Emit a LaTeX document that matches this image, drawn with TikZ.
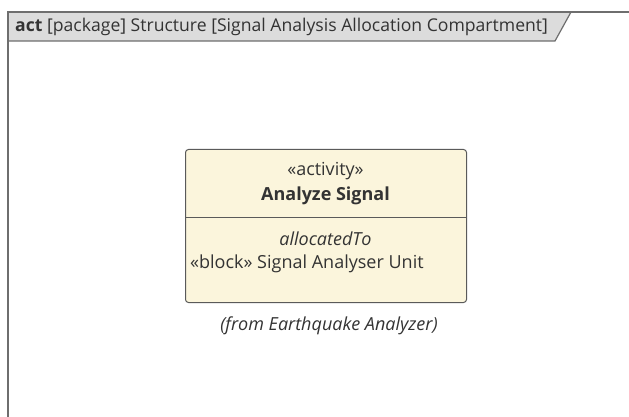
\documentclass[tikz,border=0pt]{standalone}
\usepackage{fontspec}
\setmainfont{Open Sans}
\definecolor{framec}{HTML}{6E6E6E}
\definecolor{tabfill}{HTML}{DCDCDC}
\definecolor{boxfill}{HTML}{FBF5DC}
\definecolor{boxline}{HTML}{5A5A5A}
\definecolor{txt}{HTML}{333333}
\tikzset{
  lbl/.style={inner sep=0pt, text=txt, font=\fontsize{18}{20}\selectfont},
}
\begin{document}
\begin{tikzpicture}[x=1pt,y=-1pt]
\useasboundingbox (0,0) rectangle (629,417);
\fill[white] (0,0) rectangle (629,417);
% frame tab
\fill[tabfill] (8,12) -- (571,12) -- (555,41) -- (8,41) -- cycle;
\draw[framec, line width=1.2pt] (571,12) -- (555,41) -- (8,41);
\draw[framec, line width=1.2pt] (8,417) -- (8,12) -- (629,12);
\node[lbl, anchor=west, font=\fontsize{17.6}{19}\selectfont] (title) at (15,27) {\textbf{act} [package] Structure [Signal Analysis Allocation Compartment]};
% activity box
\node[draw=boxline, fill=boxfill, rounded corners=3pt, line width=1pt, minimum width=281pt, minimum height=153pt, anchor=north west] (box) at (185,149) {};
\coordinate (dl) at (185,217);
\coordinate (dr) at (466,217);
\draw[boxline, line width=1pt] (dl) -- (dr);
\node[lbl] (st) at (325.5,171) {«activity»};
\node[lbl, font=\fontsize{18}{20}\selectfont\bfseries] (name) at (325.5,196) {Analyze Signal};
\node[lbl, font=\fontsize{18}{20}\selectfont\itshape] (alloc) at (325.5,239) {allocatedTo};
\node[lbl, anchor=west] (blk) at (190,264) {«block» Signal Analyser Unit};
\node[lbl, font=\fontsize{18}{20}\selectfont\itshape] (from) at (329,326) {(from Earthquake Analyzer)};
\end{tikzpicture}
\end{document}
